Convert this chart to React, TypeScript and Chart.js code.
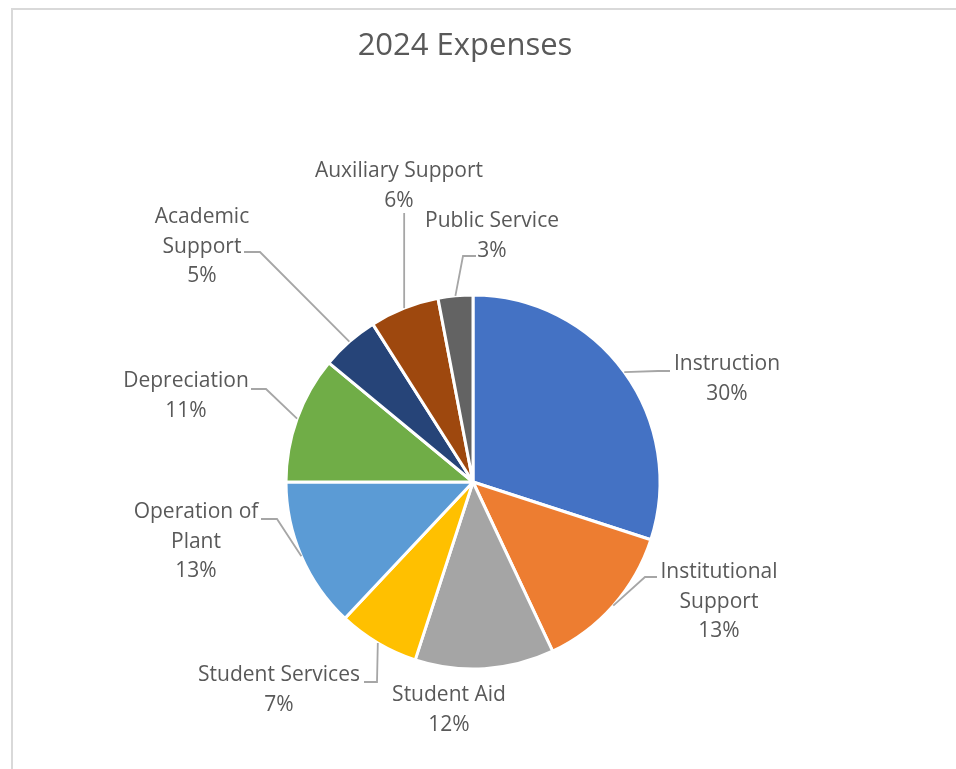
import React, { useEffect, useRef } from "react";
import { Chart, registerables } from "chart.js";

Chart.register(...registerables);

// ---- data ----
const categories = [
  "Instruction",
  "Institutional Support",
  "Student Aid",
  "Student Services",
  "Operation of Plant",
  "Depreciation",
  "Academic Support",
  "Auxiliary Support",
  "Public Service",
];
const shares = [30, 13, 12, 7, 13, 11, 5, 6, 3];
const titleText = "2024 Expenses";
// label line breaks (text as shown in the chart)
const labelLines = [
  ["Instruction"],
  ["Institutional", "Support"],
  ["Student Aid"],
  ["Student Services"],
  ["Operation of", "Plant"],
  ["Depreciation"],
  ["Academic", "Support"],
  ["Auxiliary Support"],
  ["Public Service"],
];

// ---- styles ----
const colors = [
  "#4472C4",
  "#ED7D31",
  "#A5A5A5",
  "#FFC000",
  "#5B9BD5",
  "#70AD47",
  "#264478",
  "#9E480E",
  "#636363",
];

// label layout relative to pie centre: [dx, dy] of first line centre
const labelPos: [number, number][] = [
  [254, -118],
  [246, 90],
  [-24, 213],
  [-194, 193],
  [-277, 30],
  [-287, -101],
  [-271, -265],
  [-74, -311],
  [19, -261],
];
// leader: elbow [dx, dy] and horizontal end dx (null = no leader / vertical)
const leaderElbow: ([number, number] | null)[] = [
  [185, -111],
  [172, 95],
  null,
  [-96, 200],
  [-196, 37],
  [-207, -93],
  [-213, -230],
  [-65, -269],
  [-10, -226],
];
const leaderEnd: (number | null)[] = [197, 184, null, -109, -212, -222, -229, null, 3];

const FONT = '"Open Sans", sans-serif';
const TEXT = "#595959";

export default function App() {
  const ref = useRef<HTMLCanvasElement | null>(null);

  useEffect(() => {
    if (!ref.current) return;
    const framePlugin = {
      id: "frame",
      beforeDraw(chart: any) {
        const ctx = chart.ctx;
        ctx.save();
        ctx.fillStyle = "#ffffff";
        ctx.fillRect(0, 0, chart.width, chart.height);
        ctx.strokeStyle = "#D9D9D9";
        ctx.lineWidth = 2;
        ctx.strokeRect(12, 9, chart.width + 20, chart.height + 20);
        ctx.restore();
      },
    };
    const labelPlugin = {
      id: "labels",
      afterDraw(chart: any) {
        const ctx = chart.ctx;
        const meta = chart.getDatasetMeta(0);
        const total = shares.reduce((a, b) => a + b, 0);
        ctx.save();
        // title
        ctx.fillStyle = TEXT;
        ctx.font = `31px ${FONT}`;
        ctx.textAlign = "center";
        ctx.textBaseline = "middle";
        ctx.fillText(titleText, 465, 46);

        meta.data.forEach((arc: any, i: number) => {
          const p = arc.getProps(["x", "y", "startAngle", "endAngle", "outerRadius"], true);
          const cx = p.x;
          const cy = p.y;
          const mid = (p.startAngle + p.endAngle) / 2;
          const ax = cx + Math.cos(mid) * p.outerRadius;
          const ay = cy + Math.sin(mid) * p.outerRadius;

          // leader line
          const el = leaderElbow[i];
          if (el) {
            ctx.strokeStyle = "#A6A6A6";
            ctx.lineWidth = 1.8;
            ctx.beginPath();
            ctx.moveTo(ax, ay);
            const ex = i === 7 ? ax : cx + el[0];
            ctx.lineTo(ex, cy + el[1]);
            const end = leaderEnd[i];
            if (end !== null) ctx.lineTo(cx + end, cy + el[1]);
            ctx.stroke();
          }

          // text
          const lines = [...labelLines[i], `${Math.round((shares[i] / total) * 100)}%`];
          ctx.fillStyle = TEXT;
          ctx.font = `21px ${FONT}`;
          ctx.textAlign = "center";
          ctx.textBaseline = "middle";
          const lx = cx + labelPos[i][0];
          const ly = cy + labelPos[i][1];
          lines.forEach((t, k) => ctx.fillText(t, lx, ly + k * 29.7));
        });
        ctx.restore();
      },
    };

    const chart = new Chart(ref.current, {
      type: "pie",
      data: {
        labels: categories,
        datasets: [
          {
            data: shares,
            backgroundColor: colors,
            borderColor: "#ffffff",
            borderWidth: 3,
            radius: 187,
          } as any,
        ],
      },
      options: {
        responsive: false,
        animation: false,
        devicePixelRatio: 1,
        layout: { padding: { left: 285, right: 295, top: 294, bottom: 99 } },
        plugins: {
          legend: { display: false },
          tooltip: { enabled: false },
          title: { display: false },
        },
        events: [],
      },
      plugins: [framePlugin, labelPlugin],
    });
    return () => chart.destroy();
  }, []);

  return (
    <div style={{ position: "fixed", left: 0, top: 0, width: 956, height: 769, background: "#fff" }}>
      <canvas ref={ref} width={956} height={769} style={{ width: 956, height: 769, display: "block" }} />
    </div>
  );
}
